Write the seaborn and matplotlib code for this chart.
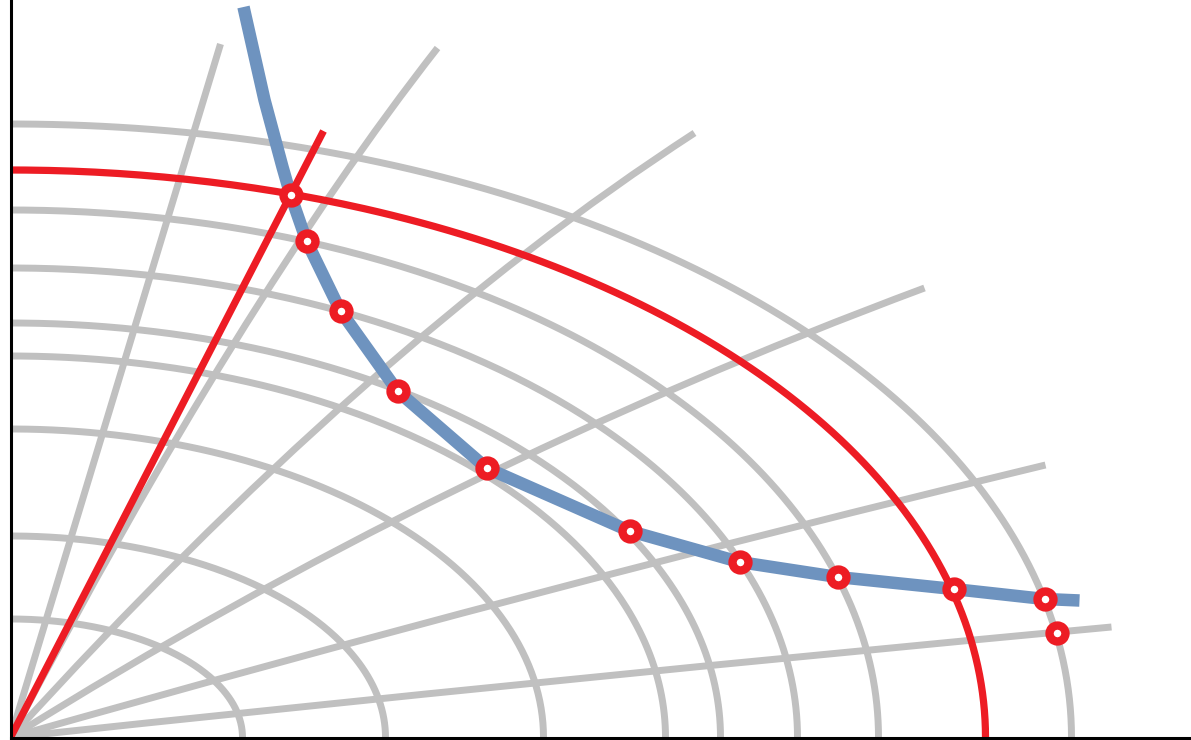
import numpy as np
import matplotlib
matplotlib.use("Agg")
import matplotlib.pyplot as plt
from matplotlib.path import Path
from matplotlib.patches import PathPatch
import seaborn as sns
import pandas as pd

# ---- data (chart units, origin at lower-left corner) ----
arc_rx = [232, 375, 533, 655, 710, 787, 868, 1061]
arc_ry = [118.5, 201.5, 308.5, 381.5, 414.5, 469.5, 527.5, 613.5]

# rays from the origin: (start, point read on the way, end)
ray1_x = [0, 105, 210]
ray1_y = [0, 346.75, 693.5]
ray4_x = [0, 289, 914]
ray4_y = [0, 167.5, 449.5]
ray5_x = [0, 289, 1035]
ray5_y = [0, 80.5, 272.5]
ray6_x = [0, 289, 1101]
ray6_y = [0, 30.5, 110.5]
# curved rays: start, bend, end
ray2_x = [0, 230, 427]
ray2_y = [0, 438, 689.5]
ray3_x = [0, 355, 684]
ray3_y = [0, 391, 604.5]

red_arc_rx = 975
red_arc_ry = 567.5
red_line_x = [0, 313]
red_line_y = [0, 606.5]

blue_x = [233, 254, 272, 280, 296, 330, 387, 476, 619, 729, 827, 943, 1034, 1069]
blue_y = [730.5, 637.5, 570.5, 542.5, 496.5, 426.5, 346.5, 269.5, 206.5, 175.5, 160.5, 148.5, 138.5, 137]

pts_x = [280, 296, 330, 387, 476, 619, 729, 827, 943, 1034, 1046]
pts_y = [542.5, 496.5, 426.5, 346.5, 269.5, 206.5, 175.5, 160.5, 148.5, 138.5, 104.5]

# ---- style ----
GRAY = "#C0C0C0"
RED = "#ED1C24"
BLUE = "#6E93BF"
GRAY_LW = 5.0
RED_LW = 5.2

sns.set_theme(style="white")
fig = plt.figure(figsize=(11.91, 7.40), dpi=100)
ax = fig.add_axes([10.5 / 1191, 2.5 / 740, 1 - 10.5 / 1191, 1 - 2.5 / 740])
ax.set_xlim(0, 1180.5)
ax.set_ylim(0, 737.5)

t = np.linspace(0, np.pi / 2, 200)
for rx, ry in zip(arc_rx, arc_ry):
    df = pd.DataFrame({"x": rx * np.cos(t), "y": ry * np.sin(t)})
    sns.lineplot(data=df, x="x", y="y", sort=False, color=GRAY, lw=GRAY_LW, ax=ax,
                 solid_capstyle="butt", zorder=1)


def through_curve(xs, ys):
    """quadratic curve from start to end passing through the middle point"""
    p0 = np.array([xs[0], ys[0]], float)
    m = np.array([xs[1], ys[1]], float)
    p2 = np.array([xs[2], ys[2]], float)
    d1 = np.linalg.norm(m - p0)
    d2 = np.linalg.norm(p2 - m)
    tm = d1 / (d1 + d2)
    c = (m - (1 - tm) ** 2 * p0 - tm ** 2 * p2) / (2 * tm * (1 - tm))
    return Path(np.vstack([p0, c, p2]), [Path.MOVETO, Path.CURVE3, Path.CURVE3])


for rx_, ry_ in [(ray1_x, ray1_y), (ray4_x, ray4_y), (ray5_x, ray5_y), (ray6_x, ray6_y)]:
    ax.add_patch(PathPatch(through_curve(rx_, ry_), fill=False, edgecolor=GRAY,
                           lw=GRAY_LW, capstyle="butt", zorder=1))

for rx_, ry_ in [(ray2_x, ray2_y), (ray3_x, ray3_y)]:
    path = Path(np.column_stack([rx_, ry_]), [Path.MOVETO, Path.CURVE3, Path.CURVE3])
    ax.add_patch(PathPatch(path, fill=False, edgecolor=GRAY, lw=GRAY_LW,
                           capstyle="butt", zorder=1))

dfb = pd.DataFrame({"x": blue_x, "y": blue_y})
sns.lineplot(data=dfb, x="x", y="y", sort=False, color=BLUE, lw=9, ax=ax,
             solid_capstyle="butt", solid_joinstyle="round", zorder=2)

dfa = pd.DataFrame({"x": red_arc_rx * np.cos(t), "y": red_arc_ry * np.sin(t)})
sns.lineplot(data=dfa, x="x", y="y", sort=False, color=RED, lw=RED_LW, ax=ax,
             solid_capstyle="butt", zorder=3)
dfl = pd.DataFrame({"x": red_line_x, "y": red_line_y})
sns.lineplot(data=dfl, x="x", y="y", sort=False, color=RED, lw=RED_LW, ax=ax,
             solid_capstyle="butt", zorder=3)

dfp = pd.DataFrame({"x": pts_x, "y": pts_y})
ax.plot(dfp["x"], dfp["y"], ls="none", marker="o", ms=11.5, mew=6.0,
        mec=RED, mfc="white", zorder=4)

for s in ["top", "right"]:
    ax.spines[s].set_visible(False)
for s in ["left", "bottom"]:
    ax.spines[s].set_color("black")
    ax.spines[s].set_linewidth(2.2)
    ax.spines[s].set_zorder(5)
ax.set_xticks([])
ax.set_yticks([])
ax.set_xlabel("")
ax.set_ylabel("")
ax.grid(False)

fig.savefig("out.png", dpi=100)
